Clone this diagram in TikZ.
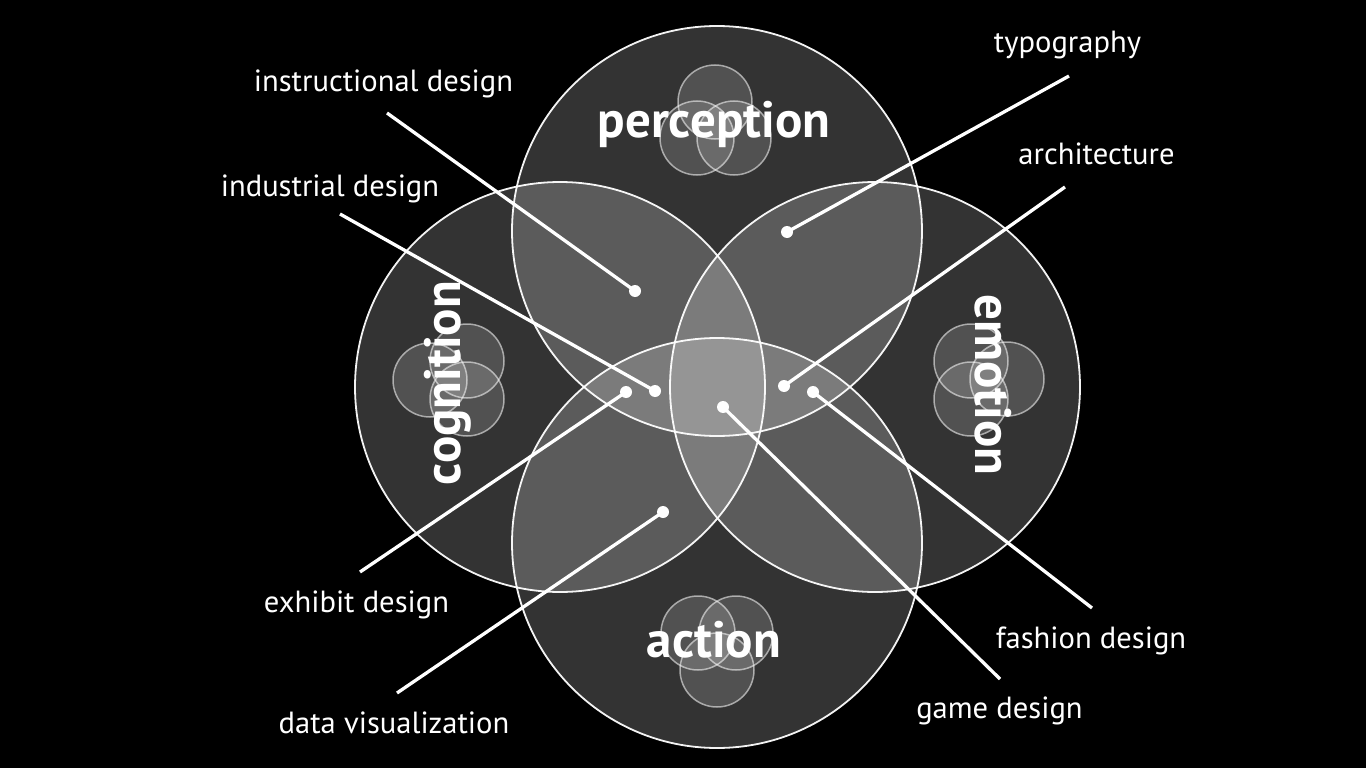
\documentclass[tikz,border=0pt]{standalone}
\usepackage{fontspec}
\setmainfont{PT Sans}
\begin{document}
\begin{tikzpicture}[x=1pt,y=-1pt,
  bigc/.style={circle, draw=white, line width=1.8pt, fill=white, fill opacity=0.2, draw opacity=0.95, inner sep=0pt, minimum size=410pt},
  smallc/.style={circle, draw=white, line width=1.5pt, fill=white, fill opacity=0.15, draw opacity=0.55, inner sep=0pt, minimum size=74pt},
  lab/.style={text=white, font=\fontsize{30.6}{30.6}\selectfont, inner sep=0pt, anchor=base},
  biglab/.style={text=white, font=\fontsize{51}{51}\selectfont\bfseries, inner sep=0pt, anchor=base},
  dot/.style={circle, fill=white, inner sep=0pt, minimum size=12pt},
  conn/.style={draw=white, line width=3.3pt}
]
\useasboundingbox (0,0) rectangle (1366,768);
\fill[black] (0,0) rectangle (1366,768);

% big circles
\node[bigc] (perc) at (717,231) {};
\node[bigc] (cogn) at (560,387) {};
\node[bigc] (emot) at (875,387) {};
\node[bigc] (actn) at (717,543) {};

% small icons
\node[smallc] (p1) at (715,102) {};
\node[smallc] (p2) at (697,138) {};
\node[smallc] (p3) at (734,138) {};
\node[smallc] (c1) at (430,380) {};
\node[smallc] (c2) at (467,361) {};
\node[smallc] (c3) at (467,399) {};
\node[smallc] (e1) at (971,361) {};
\node[smallc] (e2) at (1007,379) {};
\node[smallc] (e3) at (971,399) {};
\node[smallc] (a1) at (698,633) {};
\node[smallc] (a2) at (736,633) {};
\node[smallc] (a3) at (717,670) {};

% big labels
\node[biglab] (tperc) at (714,137) {perception};
\node[biglab] (tactn) at (714,657) {action};
\node[biglab, rotate=90] (tcogn) at (460,383) {cognition};
\node[biglab, rotate=-90] (temot) at (975,385) {emotion};

% labels
\node[lab] (linst) at (383.5,92) {instructional design};
\node[lab] (lind) at (330,196) {industrial design};
\node[lab] (ltypo) at (1067.5,53) {typography};
\node[lab] (larch) at (1096.5,164) {architecture};
\node[lab] (lexh) at (356.5,612) {exhibit design};
\node[lab] (ldata) at (394,733) {data visualization};
\node[lab] (lfash) at (1091,648) {fashion design};
\node[lab] (lgame) at (999.5,718) {game design};

% line starts
\coordinate (sinst) at (387,113);
\coordinate (sind) at (340,214);
\coordinate (stypo) at (1069,76);
\coordinate (sarch) at (1065,187);
\coordinate (sexh) at (360,572);
\coordinate (sdata) at (397,693);
\coordinate (sfash) at (1092,608);
\coordinate (sgame) at (1000,679);

% dots
\node[dot] (dinst) at (635,291) {};
\node[dot] (dind) at (655,391) {};
\node[dot] (dtypo) at (787,232) {};
\node[dot] (darch) at (784,386) {};
\node[dot] (dexh) at (626,392) {};
\node[dot] (ddata) at (663,512) {};
\node[dot] (dfash) at (813,392) {};
\node[dot] (dgame) at (723,407) {};

\draw[conn] (sinst) -- (dinst.center);
\draw[conn] (sind) -- (dind.center);
\draw[conn] (stypo) -- (dtypo.center);
\draw[conn] (sarch) -- (darch.center);
\draw[conn] (sexh) -- (dexh.center);
\draw[conn] (sdata) -- (ddata.center);
\draw[conn] (sfash) -- (dfash.center);
\draw[conn] (sgame) -- (dgame.center);
\end{tikzpicture}
\end{document}
